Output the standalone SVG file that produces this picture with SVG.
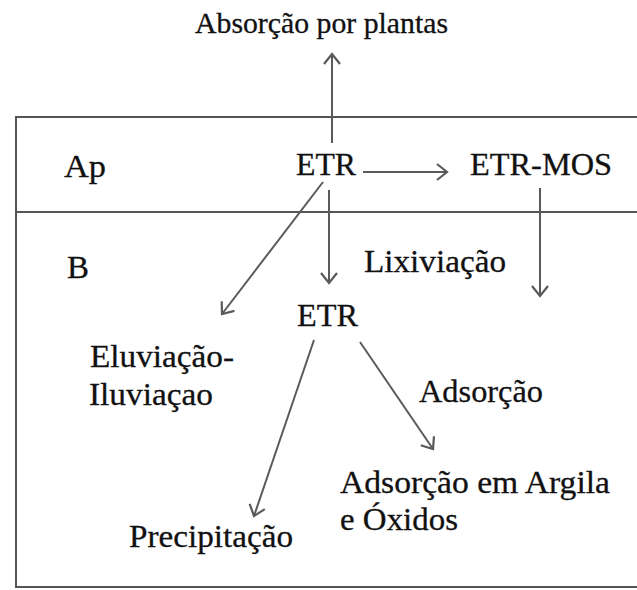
<svg xmlns="http://www.w3.org/2000/svg" width="637" height="590" viewBox="0 0 637 590">
<style>
.t{font-family:'Liberation Serif','Times New Roman',Times,serif;font-size:32px;fill:#111;stroke:#111;stroke-width:0.3}
.s{font-size:29px}
.ln{stroke:#555;stroke-width:2;fill:none}
.ar{stroke:#5a5a5a;stroke-width:2;fill:none;marker-end:url(#ah)}
</style>
<defs>
<marker id="ah" markerUnits="userSpaceOnUse" markerWidth="16" markerHeight="20" refX="12" refY="9" orient="auto" viewBox="0 0 16 20">
<path d="M2,1 L12,9 L2,17" fill="none" stroke="#5a5a5a" stroke-width="2.2"/>
</marker>
</defs>
<g id="frame">
<path class="ln" d="M637,117 H16 V587 H637"/>
<line class="ln" x1="16" y1="212" x2="637" y2="212"/>
</g>
<g id="connectors">
<line class="ar" x1="332" y1="143" x2="332" y2="54"/>
<line class="ar" x1="363" y1="172" x2="447" y2="172"/>
<line class="ar" x1="323" y1="182" x2="222" y2="314"/>
<line class="ar" x1="329" y1="190" x2="329" y2="283"/>
<line class="ar" x1="540" y1="188" x2="540" y2="296"/>
<line class="ar" x1="314" y1="340" x2="254" y2="516"/>
<line class="ar" x1="360" y1="342" x2="433" y2="449"/>
</g>
<g id="title"><text class="t s" x="195" y="33" textLength="253" lengthAdjust="spacingAndGlyphs">Absorção por plantas</text></g>
<g id="label-ap"><text class="t" x="64" y="177" textLength="42" lengthAdjust="spacingAndGlyphs">Ap</text></g>
<g id="node-etr-top"><text class="t" x="296" y="175" textLength="60" lengthAdjust="spacingAndGlyphs">ETR</text></g>
<g id="node-etr-mos"><text class="t" x="470" y="175" textLength="142" lengthAdjust="spacingAndGlyphs">ETR-MOS</text></g>
<g id="label-b"><text class="t" x="67" y="278" textLength="22" lengthAdjust="spacingAndGlyphs">B</text></g>
<g id="label-lixiviacao"><text class="t" x="364" y="272" textLength="142" lengthAdjust="spacingAndGlyphs">Lixiviação</text></g>
<g id="node-etr-b"><text class="t" x="297" y="326" textLength="61" lengthAdjust="spacingAndGlyphs">ETR</text></g>
<g id="node-eluviacao">
<text class="t" x="90" y="367" textLength="144" lengthAdjust="spacingAndGlyphs">Eluviação-</text>
<text class="t" x="89" y="405" textLength="124" lengthAdjust="spacingAndGlyphs">Iluviaçao</text>
</g>
<g id="label-adsorcao"><text class="t" x="419" y="402" textLength="124" lengthAdjust="spacingAndGlyphs">Adsorção</text></g>
<g id="node-argila">
<text class="t" x="340" y="493" textLength="270" lengthAdjust="spacingAndGlyphs">Adsorção em Argila</text>
<text class="t" x="340" y="530" textLength="118" lengthAdjust="spacingAndGlyphs">e Óxidos</text>
</g>
<g id="node-precipitacao"><text class="t" x="129" y="547" textLength="164" lengthAdjust="spacingAndGlyphs">Precipitação</text></g>
</svg>
